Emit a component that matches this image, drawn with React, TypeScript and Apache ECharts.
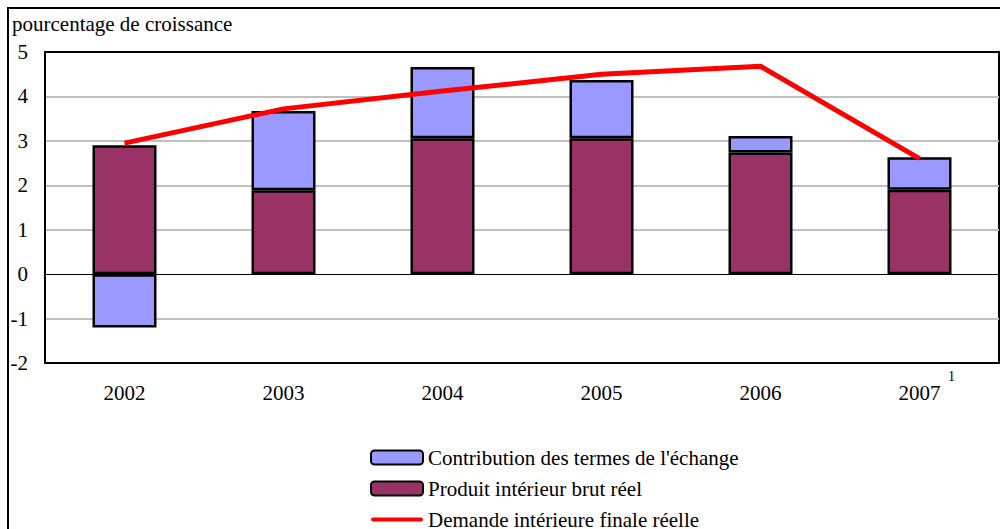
import React, { useEffect, useRef } from "react";
import * as echarts from "echarts";

const categories = ["2002", "2003", "2004", "2005", "2006", "2007"];
const pibReel = [2.9, 1.89, 3.06, 3.06, 2.74, 1.9];
const termesEchange = [-1.2, 1.78, 1.6, 1.31, 0.37, 0.73];
const demandeInterieure = [2.95, 3.72, 4.12, 4.5, 4.68, 2.6];

const FONT = "Liberation Serif";
const FS = 21;

export default function App() {
  const ref = useRef<HTMLDivElement>(null);
  useEffect(() => {
    if (!ref.current) return;
    const chart = echarts.init(ref.current, null, { renderer: "svg" });
    chart.setOption({
      animation: false,
      backgroundColor: "#fff",
      textStyle: { fontFamily: FONT },
      grid: {
        left: 45,
        right: 1,
        top: 52,
        bottom: 197,
        show: true,
        borderColor: "#000",
        borderWidth: 2,
      },
      graphic: [
        {
          type: "rect",
          shape: { x: 8, y: 8, width: 1000, height: 600 },
          style: { fill: "none", stroke: "#000", lineWidth: 2 },
          silent: true,
        },
        {
          type: "text",
          left: 12,
          top: 13,
          style: {
            text: "pourcentage de croissance",
            fontSize: FS,
            fontFamily: FONT,
            fill: "#000",
          },
        },
        {
          type: "text",
          left: 948,
          top: 369,
          style: { text: "1", fontSize: 14, fontFamily: FONT, fill: "#000" },
        },
      ],
      legend: {
        orient: "vertical",
        left: 365,
        top: 442,
        itemWidth: 52,
        itemHeight: 14,
        itemGap: 10,
        textStyle: { fontSize: FS, color: "#000", fontFamily: FONT },
        data: [
          { name: "Contribution des termes de l'échange" },
          { name: "Produit intérieur brut réel" },
          {
            name: "Demande intérieure finale réelle",
            icon: "path://M2,0 L50,0 Q52,0 52,2 Q52,4 50,4 L2,4 Q0,4 0,2 Q0,0 2,0 Z",
            itemStyle: { color: "#FF0000", borderWidth: 0 },
          },
        ],
      },
      xAxis: [
        {
          type: "category",
          data: categories,
          position: "bottom",
          axisLine: { onZero: true, lineStyle: { color: "#000", width: 1 } },
          axisTick: { inside: true, length: 6, lineStyle: { color: "#000" } },
          axisLabel: { show: false },
          splitLine: { show: false },
        },
        {
          type: "category",
          data: categories,
          position: "bottom",
          axisLine: { onZero: false, lineStyle: { color: "#000", width: 2 } },
          axisTick: { show: false },
          axisLabel: { margin: 19, fontSize: FS, color: "#000", fontFamily: FONT },
          splitLine: { show: false },
        },
      ],
      yAxis: {
        type: "value",
        min: -2,
        max: 5,
        interval: 1,
        axisLine: { show: true, lineStyle: { color: "#000", width: 2 } },
        axisTick: { show: false },
        axisLabel: { margin: 17, fontSize: FS, color: "#000", fontFamily: FONT },
        splitLine: {
          lineStyle: {
            width: 2,
            color: ["#000", "#C0C0C0", "transparent", "#C0C0C0", "#C0C0C0", "#C0C0C0", "#C0C0C0", "#000"],
          },
        },
      },
      series: [
        {
          name: "Produit intérieur brut réel",
          type: "bar",
          stack: "total",
          barWidth: 64,
          data: pibReel,
          itemStyle: { color: "#993366", borderColor: "#000", borderWidth: 2.5 },
        },
        {
          name: "Contribution des termes de l'échange",
          type: "bar",
          stack: "total",
          barWidth: 64,
          data: termesEchange,
          itemStyle: { color: "#9999FF", borderColor: "#000", borderWidth: 2.5 },
        },
        {
          name: "Demande intérieure finale réelle",
          type: "line",
          data: demandeInterieure,
          symbol: "none",
          showSymbol: false,
          lineStyle: { color: "#FF0000", width: 5 },
          itemStyle: { color: "#FF0000" },
          z: 5,
        },
      ],
    });
    return () => chart.dispose();
  }, []);
  return (
    <div
      style={{
        position: "absolute",
        left: 0,
        top: 0,
        width: 1000,
        height: 529,
        overflow: "hidden",
      }}
    >
      <div ref={ref} style={{ width: 1000, height: 560 }} />
    </div>
  );
}
